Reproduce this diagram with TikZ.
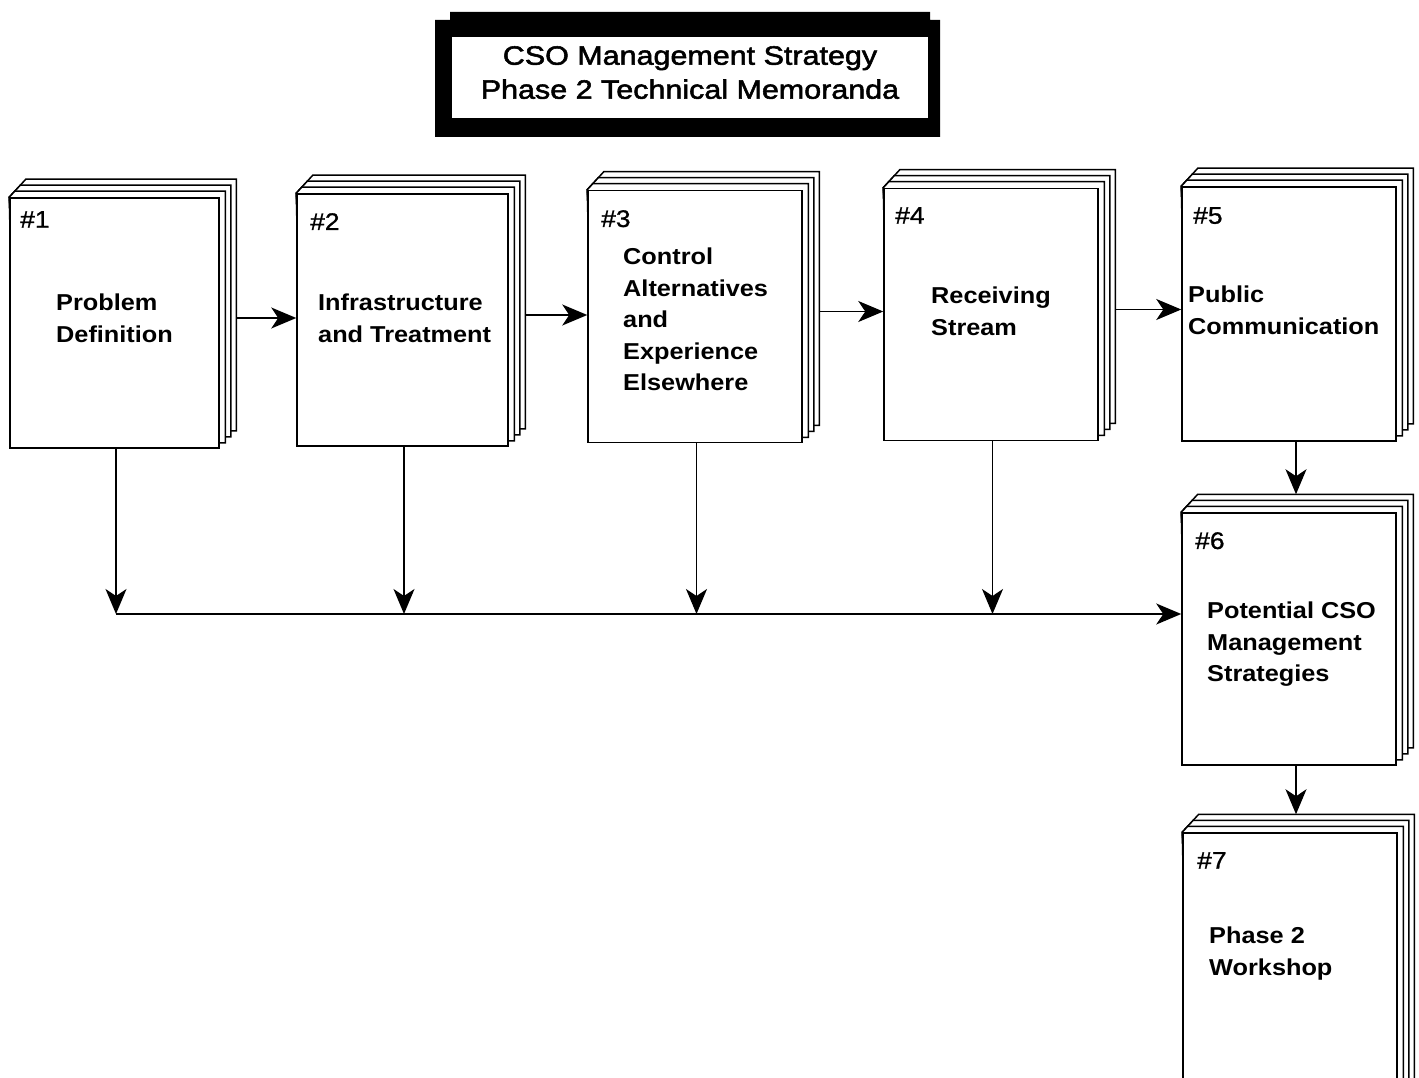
\documentclass[tikz,border=0pt]{standalone}
\usepackage{fontspec}
\setmainfont{Liberation Sans}
\newfontfamily\memofont[FakeStretch=1.1]{Liberation Sans}
\newfontfamily\numfont[FakeStretch=1.1, FakeBold=1]{Liberation Sans}
\newfontfamily\headfont[FakeStretch=1.15, FakeBold=2]{Liberation Sans}
\usepackage{tikz}
\usetikzlibrary{arrows.meta, calc, backgrounds}

% three sheets stacked behind a memo
\newcommand{\backpages}[1]{%
  \begin{scope}[on background layer]
    \foreach \k in {3,2,1}
      \filldraw[page] (#1.north west) -- ++(5.5*\k,-6*\k)
        -- ($(#1.north east)+(5.5*\k,-6*\k)$)
        -- ($(#1.south east)+(5.5*\k,-6*\k)$)
        -- ($(#1.south west)+(5.5*\k,-6*\k)$) -- cycle;
  \end{scope}}

\begin{document}
\begin{tikzpicture}[x=1pt, y=-1pt,
  page/.style={draw=black, fill=white, line width=1.5pt, line join=miter},
  memo/.style={page, minimum width=214pt, minimum height=252pt, inner sep=0pt},
  memotext/.style={font=\memofont\bfseries\fontsize{23}{31.5}\selectfont, anchor=north west, align=left, inner sep=0pt},
  memonum/.style={font=\numfont\fontsize{24}{26}\selectfont, anchor=north west, inner sep=0pt},
  flow/.style={line width=1.4pt, -{Stealth[length=25pt, width=21pt, inset=7pt]}}]
\useasboundingbox (0,0) rectangle (1419,1078);

% title plate
\fill[black] (450,12) -- (930,12) -- (930,20) -- (940,20) -- (940,137)
  -- (435,137) -- (435,20) -- (450,20) -- cycle;
\fill[white] (452,37) rectangle (928,118);
\node[font=\headfont\fontsize{26.5}{34}\selectfont, anchor=north, align=center, inner sep=0pt]
  (title) at (690,46) {CSO Management Strategy\\Phase 2 Technical Memoranda};

% memoranda
\node[memo, minimum width=209pt, minimum height=250pt] (m1) at (114.5,323) {};
\backpages{m1}
\node[memo, minimum width=211pt] (m2) at (402.5,320) {};
\backpages{m2}
\node[memo] (m3) at (695,316.5) {};
\backpages{m3}
\node[memo] (m4) at (991,314.5) {};
\backpages{m4}
\node[memo, minimum height=254pt] (m5) at (1289,314) {};
\backpages{m5}
\node[memo] (m6) at (1289,639) {};
\backpages{m6}
\node[memo, minimum height=267pt] (m7) at (1290,966.5) {};
\backpages{m7}

\node[memonum] (n1) at (20,211) {\#1};
\node[memotext] (t1) at (56,294) {Problem\\Definition};
\node[memonum] (n2) at (310,213) {\#2};
\node[memotext] (t2) at (318,294) {Infrastructure\\and Treatment};
\node[memonum] (n3) at (601,210) {\#3};
\node[memotext] (t3) at (623,248) {Control\\Alternatives\\and\\Experience\\Elsewhere};
\node[memonum] (n4) at (895,207) {\#4};
\node[memotext] (t4) at (931,287) {Receiving\\Stream};
\node[memonum] (n5) at (1193,207) {\#5};
\node[memotext] (t5) at (1188,286) {Public\\Communication};
\node[memonum] (n6) at (1195,532) {\#6};
\node[memotext] (t6) at (1207,602) {Potential CSO\\Management\\Strategies};
\node[memonum] (n7) at (1197,852) {\#7};
\node[memotext] (t7) at (1209,927) {Phase 2\\Workshop};

% connectors
\coordinate (bus) at (0,614);
\coordinate (top6) at ([yshift=18pt]m6.north);
\coordinate (top7) at ([yshift=18pt]m7.north);
\draw[flow] ([xshift=16.5pt,yshift=5pt]m1.east) coordinate (o1) -- (o1 -| m2.west);
\draw[flow] ([xshift=16.5pt,yshift=5pt]m2.east) coordinate (o2) -- (o2 -| m3.west);
\draw[flow] ([xshift=16.5pt,yshift=5pt]m3.east) coordinate (o3) -- (o3 -| m4.west);
\draw[flow] ([xshift=16.5pt,yshift=5pt]m4.east) coordinate (o4) -- (o4 -| m5.west);
\foreach \m in {m1,m2,m3,m4}
  \draw[flow] ([xshift=1.5pt]\m.south) -- ([xshift=1.5pt]\m.south |- bus);
\draw[flow] ([xshift=1.5pt]m1.south |- bus) -- (bus -| m6.west);
\draw[flow] ([xshift=7pt]m5.south) coordinate (o5) -- (o5 |- top6);
\draw[flow] ([xshift=7pt]m6.south) coordinate (o6) -- (o6 |- top7);
\end{tikzpicture}
\end{document}
